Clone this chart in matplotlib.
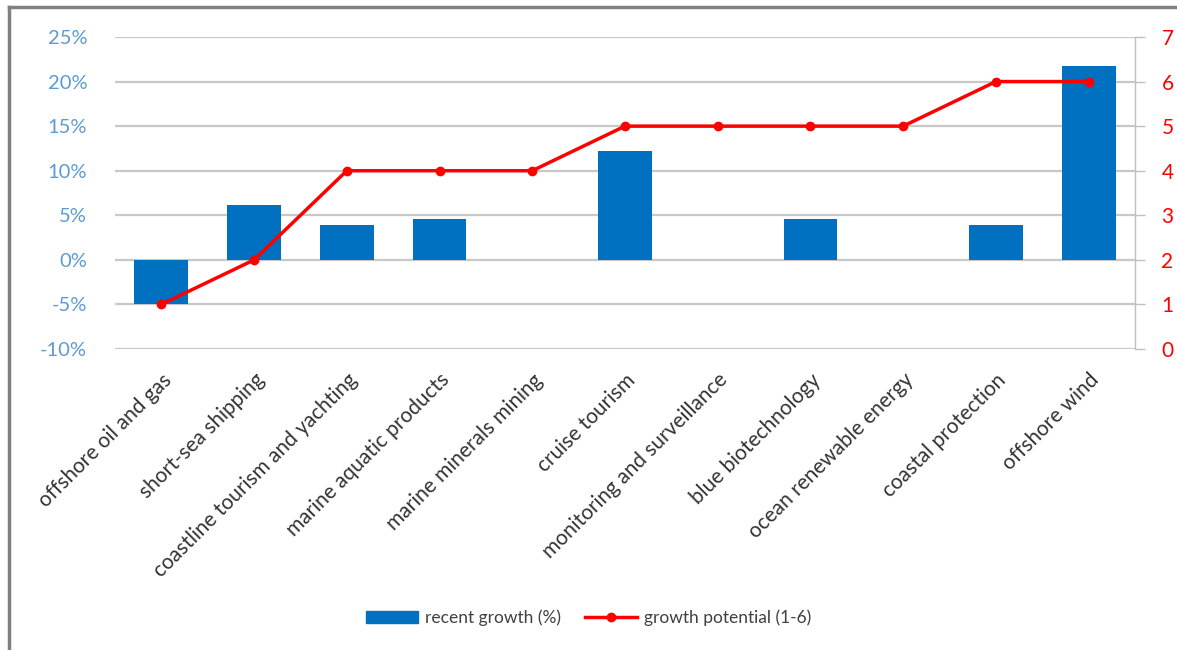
import matplotlib
matplotlib.use("Agg")
import matplotlib.pyplot as plt
import numpy as np
from matplotlib.lines import Line2D
from matplotlib.patches import Patch

categories = ["offshore oil and gas", "short-sea shipping", "coastline tourism and yachting",
              "marine aquatic products", "marine minerals mining", "cruise tourism",
              "monitoring and surveillance", "blue biotechnology", "ocean renewable energy",
              "coastal protection", "offshore wind"]
recent_growth = [-4.9, 6.1, 3.9, 4.6, 0.0, 12.2, 0.0, 4.6, 0.0, 3.9, 21.8]
growth_potential = [1, 2, 4, 4, 4, 5, 5, 5, 5, 6, 6]
left_ticks = [-10, -5, 0, 5, 10, 15, 20, 25]
right_ticks = [0, 1, 2, 3, 4, 5, 6, 7]

plt.rcParams['font.family'] = ['Lato', 'DejaVu Sans']

fig = plt.figure(figsize=(11.77, 6.5), dpi=100)
ax = fig.add_axes([115/1177, 1-349/650, (1135-115)/1177, (349-37)/650])
x = np.arange(len(categories))
ax.bar(x, recent_growth, width=0.58, color="#0070C0", zorder=3)
ax.set_xlim(-0.5, len(categories)-0.5)
ax.set_ylim(-10, 25)
ax.set_yticks(left_ticks)
ax.set_yticklabels([f"{t}%" for t in left_ticks], color="#5B9BD5", fontsize=14.5)
ax.yaxis.grid(True, color="#C8C8C8", linewidth=1.6, zorder=0)
ax.tick_params(axis="y", length=0, pad=20)
for s in ["left", "top", "right", "bottom"]:
    ax.spines[s].set_visible(False)
ax.set_xticks(x)
ax.set_xticklabels(categories, rotation=45, ha="right", rotation_mode="anchor",
                   fontsize=15, color="#333333")
ax.tick_params(axis="x", length=0, pad=15)

ax2 = ax.twinx()
ax2.plot(x, growth_potential, color="#FF0000", linewidth=2.5, marker="o", markersize=6, zorder=4)
ax2.set_ylim(0, 7)
ax2.set_yticks(right_ticks)
ax2.set_yticklabels([str(t) for t in right_ticks], color="#FF0000", fontsize=15)
ax2.tick_params(axis="y", length=7, width=1, color="#BFBFBF", pad=12)
for s in ["left", "top", "bottom"]:
    ax2.spines[s].set_visible(False)
ax2.spines["right"].set_color("#BFBFBF")
ax2.spines["right"].set_linewidth(1)

handles = [Patch(facecolor="#0070C0", edgecolor="#0070C0"),
           Line2D([0], [0], color="#FF0000", linewidth=2.5, marker="o", markersize=6)]
fig.legend(handles, ["recent growth (%)", "growth potential (1-6)"], loc="center",
           bbox_to_anchor=(0.5, 1-618/650), ncol=2, frameon=False, fontsize=12.5,
           labelcolor="#404040", handlelength=3.0, columnspacing=1.4, handletextpad=0.4)

# frame border
fig.add_artist(Line2D([9/1177, 9/1177], [0, 1-7/650], color="#808080", linewidth=2.5, transform=fig.transFigure))
fig.add_artist(Line2D([9/1177, 1], [1-7/650, 1-7/650], color="#808080", linewidth=2.5, transform=fig.transFigure))

fig.savefig("out.png", dpi=100)
